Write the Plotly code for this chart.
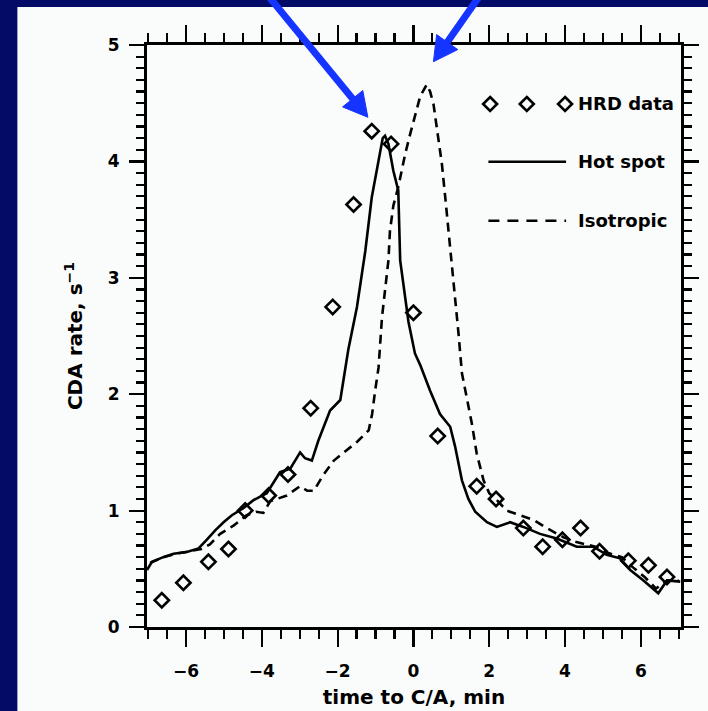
import plotly.graph_objects as go

# ---------------- data ----------------
hrd_time = [-6.64, -6.07, -5.41, -4.88, -4.44, -3.82, -3.31, -2.71, -2.13, -1.58,
            -1.10, -0.59, 0.00, 0.64, 1.67, 2.18, 2.90, 3.41, 3.93, 4.41,
            4.91, 5.67, 6.20, 6.69]
hrd_rate = [0.23, 0.38, 0.56, 0.67, 1.00, 1.13, 1.31, 1.88, 2.75, 3.63,
            4.26, 4.15, 2.70, 1.64, 1.21, 1.10, 0.85, 0.69, 0.75, 0.85,
            0.65, 0.57, 0.53, 0.43]

hot_time = [-7.03, -6.90, -6.60, -6.33, -5.98, -5.67, -5.45, -5.23, -5.01, -4.79,
            -4.49, -4.22, -3.87, -3.74, -3.52, -3.25, -2.99, -2.86, -2.68, -2.51,
            -2.20, -1.93, -1.72, -1.49, -1.27, -1.10, -0.92, -0.81, -0.75, -0.66,
            -0.53, -0.40, -0.35, -0.26, -0.13, 0.04, 0.18, 0.44, 0.70, 0.97,
            1.10, 1.28, 1.45, 1.63, 1.94, 2.20, 2.55, 2.90, 3.34, 3.78,
            4.31, 4.75, 5.10, 5.45, 5.72, 6.07, 6.46, 6.69, 7.04]
hot_rate = [0.49, 0.56, 0.60, 0.63, 0.645, 0.675, 0.75, 0.83, 0.90, 0.96,
            1.02, 1.09, 1.15, 1.22, 1.33, 1.36, 1.50, 1.45, 1.43, 1.60,
            1.86, 1.95, 2.38, 2.75, 3.23, 3.69, 4.03, 4.20, 4.22, 4.15,
            3.92, 3.75, 3.15, 2.92, 2.62, 2.35, 2.25, 2.03, 1.83, 1.72,
            1.55, 1.26, 1.10, 0.99, 0.90, 0.86, 0.90, 0.86, 0.80, 0.76,
            0.69, 0.69, 0.62, 0.59, 0.49, 0.40, 0.29, 0.40, 0.39]

iso_time = [-6.95, -6.60, -6.25, -5.90, -5.60, -5.37, -5.10, -4.75, -4.40, -4.15,
            -3.96, -3.78, -3.34, -2.99, -2.80, -2.63, -2.37, -2.10, -1.76, -1.49,
            -1.18, -1.09, -1.01, -0.92, -0.83, -0.75, -0.66, -0.62, -0.53, -0.40,
            -0.22, -0.09, 0.04, 0.18, 0.35, 0.44, 0.53, 0.66, 0.75, 0.84,
            0.93, 1.01, 1.10, 1.19, 1.28, 1.41, 1.54, 1.67, 1.85, 2.00,
            2.20, 2.46, 2.82, 3.17, 3.52, 3.96, 4.30, 4.80, 5.10, 5.50,
            5.80, 6.10, 6.40, 6.70, 7.00]
iso_rate = [0.55, 0.60, 0.63, 0.65, 0.67, 0.71, 0.80, 0.87, 0.96, 0.99,
            0.98, 1.08, 1.13, 1.21, 1.17, 1.17, 1.31, 1.43, 1.52, 1.59,
            1.69, 1.83, 2.03, 2.23, 2.66, 2.89, 3.15, 3.40, 3.62, 3.78,
            4.06, 4.23, 4.40, 4.56, 4.66, 4.60, 4.49, 4.20, 3.98, 3.69,
            3.40, 3.10, 2.80, 2.52, 2.18, 1.98, 1.75, 1.49, 1.26, 1.15,
            1.09, 1.00, 0.96, 0.92, 0.85, 0.77, 0.73, 0.69, 0.64, 0.60,
            0.51, 0.43, 0.33, 0.40, 0.40]

legend_labels = ["HRD data", "Hot spot", "Isotropic"]

# ---------------- styling ----------------
W, H = 708, 711
L, R, T, B = 146.7, 27, 45, 84
pw, ph = W - L - R, H - T - B
BLACK = "#000000"
NAVY = "#030b66"
PANEL = "#f9fcfa"
BLUE = "rgb(22,52,255)"
FONT = "DejaVu Sans"
DASH = "9px,6px"
LW = 2.6

def px_to_paper(x, y):
    return (x - L) / pw, (H - B - y) / ph

fig = go.Figure()

fig.add_trace(go.Scatter(x=hot_time, y=hot_rate, mode="lines", name=legend_labels[1],
                         line=dict(color=BLACK, width=LW), showlegend=False))
fig.add_trace(go.Scatter(x=iso_time, y=iso_rate, mode="lines", name=legend_labels[2],
                         line=dict(color=BLACK, width=LW, dash=DASH), showlegend=False))
fig.add_trace(go.Scatter(x=hrd_time, y=hrd_rate, mode="markers", name=legend_labels[0],
                         marker=dict(symbol="diamond-open", size=11, color=BLACK,
                                     line=dict(width=LW, color=BLACK)),
                         showlegend=False))

shapes = []
# white panel
px0, py1 = px_to_paper(17, 7)
px1, py0 = px_to_paper(708, 711)
shapes.append(dict(type="rect", xref="paper", yref="paper", x0=px0, x1=px1 + 0.01,
                   y0=py0 - 0.01, y1=py1, fillcolor=PANEL, line=dict(width=0), layer="below"))

def path_from_px(points, close=True):
    pts = [px_to_paper(*p) for p in points]
    s = "M{},{}".format(*pts[0]) + "".join(" L{},{}".format(*p) for p in pts[1:])
    return s + (" Z" if close else "")

# ---- hand-made legend (glyph samples in pixel positions -> paper) ----
legend_rows_px = [104, 161.7, 220.7]
for cx in (490, 526.7, 565):
    cy, r = legend_rows_px[0], 7
    shapes.append(dict(type="path", xref="paper", yref="paper",
                       path=path_from_px([(cx, cy - r), (cx + r, cy), (cx, cy + r), (cx - r, cy)]),
                       line=dict(color=BLACK, width=LW), fillcolor="rgba(0,0,0,0)"))
for row, dash in ((1, "solid"), (2, "11px,8px")):
    (x0, y0), (x1, _) = px_to_paper(488.3, legend_rows_px[row]), px_to_paper(566, legend_rows_px[row])
    shapes.append(dict(type="line", xref="paper", yref="paper", x0=x0, x1=x1, y0=y0, y1=y0,
                       line=dict(color=BLACK, width=LW, dash=dash)))

tx = px_to_paper(576, 0)[0]
annotations = []
for lab, ypx in zip(legend_labels, legend_rows_px):
    annotations.append(dict(x=tx, y=px_to_paper(0, ypx)[1], xref="paper", yref="paper", text=lab,
                            showarrow=False, xanchor="left", yanchor="middle",
                            font=dict(family=FONT, size=18, color=BLACK, weight="bold")))

# ---- blue arrows (shaft + head), given in pixels and converted to paper ----
def arrow(tail, base, tip, w1, w2):
    (x0, y0), (x1, y1) = px_to_paper(*tail), px_to_paper(*base)
    shapes.append(dict(type="line", xref="paper", yref="paper", x0=x0, y0=y0, x1=x1, y1=y1,
                       line=dict(color=BLUE, width=7), layer="above"))
    shapes.append(dict(type="path", xref="paper", yref="paper", path=path_from_px([tip, w1, w2]),
                       fillcolor=BLUE, line=dict(color=BLUE, width=1), layer="above"))

arrow((255, -20), (354.5, 101.3), (367.7, 117.3), (342.4, 106.9), (362.6, 90.5))
arrow((490.7, -20), (445.5, 44.4), (433.3, 61.7), (436.5, 34.6), (457.7, 49.6))

axis_common = dict(showline=True, linecolor=BLACK, linewidth=3, mirror="ticks",
                   ticks="outside", tickcolor=BLACK, tickwidth=2.2, showgrid=False,
                   zeroline=False, tickfont=dict(family=FONT, size=17, color=BLACK, weight="bold"))

fig.update_layout(
    width=W, height=H,
    margin=dict(l=L, r=R, t=T, b=B, autoexpand=False),
    paper_bgcolor=NAVY, plot_bgcolor="rgba(0,0,0,0)",
    shapes=shapes, annotations=annotations,
    xaxis=dict(range=[-7.03, 7.06], tickmode="linear", tick0=-6, dtick=2, ticklen=17,
               minor=dict(dtick=0.5, tick0=0, ticklen=9, ticks="outside",
                          tickwidth=2.2, tickcolor=BLACK, showgrid=False),
               ticklabelstandoff=10,
               title=dict(text="time to C/A, min",
                          font=dict(family=FONT, size=20, color=BLACK, weight="bold"),
                          standoff=10),
               **axis_common),
    yaxis=dict(range=[0, 5], tickmode="linear", tick0=0, dtick=1, ticklen=15,
               minor=dict(dtick=0.1, tick0=0, ticklen=8, ticks="outside",
                          tickwidth=2.2, tickcolor=BLACK, showgrid=False),
               ticklabelstandoff=6,
               title=dict(text="CDA rate, s<sup>−1</sup>",
                          font=dict(family=FONT, size=20, color=BLACK, weight="bold"),
                          standoff=20),
               **axis_common),
    showlegend=False,
)

fig.write_html("out.html",
               config={"displayModeBar": False, "staticPlot": True},
               post_script="document.body.style.margin='0';"
                           "document.body.style.background='" + NAVY + "';"
                           "document.documentElement.style.overflow='hidden';")
